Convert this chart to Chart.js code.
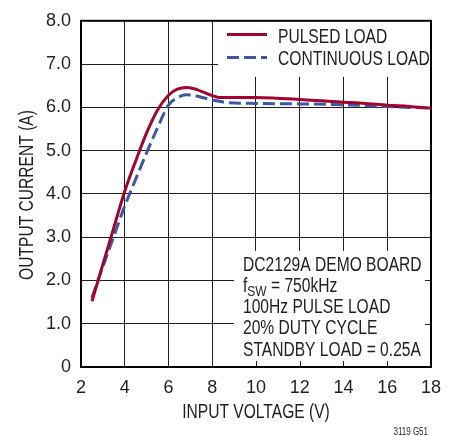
<!DOCTYPE html>
<html>
<head>
<meta charset="utf-8">
<script src="https://cdn.jsdelivr.net/npm/chart.js@4.4.1/dist/chart.umd.min.js"></script>
<style>
  html, body { margin: 0; padding: 0; background: #fff; }
  #wrap { width: 451px; height: 436px; }
</style>
</head>
<body>
<div id="wrap"><canvas id="c" width="451" height="436"></canvas></div>
<script>
// Output current vs input voltage, pulsed and continuous load
const pulsedVin  = [2.5, 3.0, 3.5, 4.0, 4.5, 5.0, 5.5, 6.0, 6.4, 6.85, 7.3, 7.6, 8.0, 8.3, 9.0, 10.0, 11.0, 12.0, 13.0, 14.0, 15.0, 16.0, 17.0, 18.0];
const pulsedIout = [1.52, 2.37, 3.22, 4.06, 4.76, 5.41, 5.94, 6.28, 6.42, 6.46, 6.41, 6.35, 6.27, 6.23, 6.23, 6.23, 6.21, 6.18, 6.15, 6.12, 6.09, 6.05, 6.02, 5.98];

const contVin  = [2.5, 3.0, 3.5, 4.0, 4.5, 5.0, 5.5, 6.0, 6.4, 6.8, 7.2, 7.6, 8.0, 8.7, 10.0, 12.0, 14.0, 16.0, 18.0];
const contIout = [1.60, 2.32, 3.02, 3.72, 4.34, 4.95, 5.53, 6.05, 6.22, 6.29, 6.27, 6.22, 6.17, 6.11, 6.09, 6.08, 6.06, 6.02, 5.98];

const xTickLabels = ['2', '4', '6', '8', '10', '12', '14', '16', '18'];
const yTickLabels = ['0', '1.0', '2.0', '3.0', '4.0', '5.0', '6.0', '7.0', '8.0'];

const seriesNames = ['PULSED LOAD', 'CONTINUOUS LOAD'];
const xTitle = 'INPUT VOLTAGE (V)';
const yTitle = 'OUTPUT CURRENT (A)';
const noteLines = ['DC2129A DEMO BOARD', 'fSW = 750kHz', '100Hz PULSE LOAD', '20% DUTY CYCLE', 'STANDBY LOAD = 0.25A'];
const figureId = '3119 G51';

const FONT = "'Liberation Sans', Arial, sans-serif";
const NARROW = 0.8;          // horizontal squeeze for a narrow face
const RED = '#a1052f';
const BLUE = '#3b57a6';
const INK = '#231f20';

function pairs(xs, ys) { return xs.map((x, i) => ({ x: x, y: ys[i] })); }

// draw text squeezed horizontally; returns advance width
function narrowText(ctx, text, x, y, align) {
  const w = ctx.measureText(text).width * NARROW;
  let x0 = x;
  if (align === 'center') x0 = x - w / 2;
  else if (align === 'right') x0 = x - w;
  ctx.save();
  ctx.translate(x0, y);
  ctx.scale(NARROW, 1);
  ctx.textAlign = 'left';
  ctx.fillText(text, 0, 0);
  ctx.restore();
  return w;
}

const decor = {
  id: 'decor',
  beforeDatasetsDraw(chart) {
    const { ctx, chartArea: a } = chart;
    const xs = chart.scales.x, ys = chart.scales.y;
    ctx.save();
    // white panels behind legend and note text
    ctx.fillStyle = '#fff';
    ctx.fillRect(a.left + 137, a.top, a.right - a.left - 137, 56);
    ctx.fillRect(a.left + 153, a.top + 230, a.right - a.left - 153, a.bottom - a.top - 230);
    // inner tick marks that remain visible inside the note panel
    ctx.strokeStyle = INK;
    ctx.lineWidth = 1;
    ctx.beginPath();
    [10, 12, 14, 16].forEach(v => {
      const px = Math.round(xs.getPixelForValue(v)) + 0.5;
      ctx.moveTo(px, a.bottom); ctx.lineTo(px, a.bottom - 6);
    });
    [1, 2].forEach(v => {
      const py = Math.round(ys.getPixelForValue(v)) + 0.5;
      ctx.moveTo(a.right, py); ctx.lineTo(a.right - 6, py);
    });
    ctx.stroke();
    // frame
    ctx.lineWidth = 2;
    ctx.strokeStyle = '#000';
    ctx.strokeRect(a.left, a.top, a.right - a.left, a.bottom - a.top);
    ctx.restore();
  },
  afterDraw(chart) {
    const { ctx, chartArea: a } = chart;
    ctx.save();
    ctx.textBaseline = 'alphabetic';
    ctx.fillStyle = INK;
    ctx.font = '19.5px ' + FONT;
    // axis titles
    narrowText(ctx, xTitle, (a.left + a.right) / 2, 418, 'center');
    ctx.save();
    ctx.translate(33, 195);
    ctx.rotate(-Math.PI / 2);
    narrowText(ctx, yTitle, 0, 0, 'center');
    ctx.restore();
    // legend
    ctx.lineWidth = 3;
    ctx.strokeStyle = RED;
    ctx.beginPath(); ctx.moveTo(227, 34.5); ctx.lineTo(267, 34.5); ctx.stroke();
    ctx.strokeStyle = BLUE;
    ctx.setLineDash([12, 5]);
    ctx.beginPath(); ctx.moveTo(227, 57.5); ctx.lineTo(267, 57.5); ctx.stroke();
    ctx.setLineDash([]);
    narrowText(ctx, seriesNames[0], 278, 43.3);
    narrowText(ctx, seriesNames[1], 278, 65.3);
    // note block
    const x0 = 243, y0 = 270.7, dy = 21.2;
    noteLines.forEach((t, i) => {
      const y = y0 + i * dy;
      if (i === 1) {
        let x = x0 + narrowText(ctx, 'f', x0, y);
        ctx.font = '15px ' + FONT;
        x += narrowText(ctx, 'SW', x, y + 4);
        ctx.font = '19.5px ' + FONT;
        narrowText(ctx, t.slice(3), x, y);
      } else {
        narrowText(ctx, t, x0, y);
      }
    });
    // figure id
    ctx.font = '10px ' + FONT;
    narrowText(ctx, figureId, 428, 434.5, 'right');
    ctx.restore();
  }
};

new Chart(document.getElementById('c'), {
  type: 'line',
  data: {
    datasets: [
      {
        label: seriesNames[0],
        data: pairs(pulsedVin, pulsedIout),
        borderColor: RED,
        borderWidth: 3,
        pointRadius: 0,
        cubicInterpolationMode: 'monotone',
        fill: false
      },
      {
        label: seriesNames[1],
        data: pairs(contVin, contIout),
        borderColor: BLUE,
        borderWidth: 3,
        borderDash: [12, 5],
        pointRadius: 0,
        cubicInterpolationMode: 'monotone',
        fill: false
      }
    ]
  },
  options: {
    responsive: false,
    devicePixelRatio: 1,
    animation: false,
    layout: { padding: { left: 8, right: 19, top: 15, bottom: 12 } },
    plugins: { legend: { display: false }, tooltip: { enabled: false } },
    scales: {
      x: {
        type: 'linear',
        min: 2, max: 18,
        afterFit: s => { s.height = 436 - 367 - 12; },
        afterBuildTicks: s => { s.ticks = xTickLabels.map(t => ({ value: Number(t) })); },
        ticks: {
          callback: (v, i) => xTickLabels[i],
          color: INK,
          font: { family: FONT, size: 18 },
          padding: 10,
          maxRotation: 0
        },
        grid: { color: INK, lineWidth: 1, drawTicks: false },
        border: { display: false }
      },
      y: {
        min: 0, max: 8,
        afterFit: s => { s.width = 81 - 8; },
        afterBuildTicks: s => { s.ticks = yTickLabels.map((t, i) => ({ value: i })); },
        ticks: {
          callback: (v, i) => yTickLabels[i],
          color: INK,
          font: { family: FONT, size: 18 },
          padding: 10
        },
        grid: { color: INK, lineWidth: 1, drawTicks: false },
        border: { display: false }
      }
    }
  },
  plugins: [decor]
});
</script>
</body>
</html>
